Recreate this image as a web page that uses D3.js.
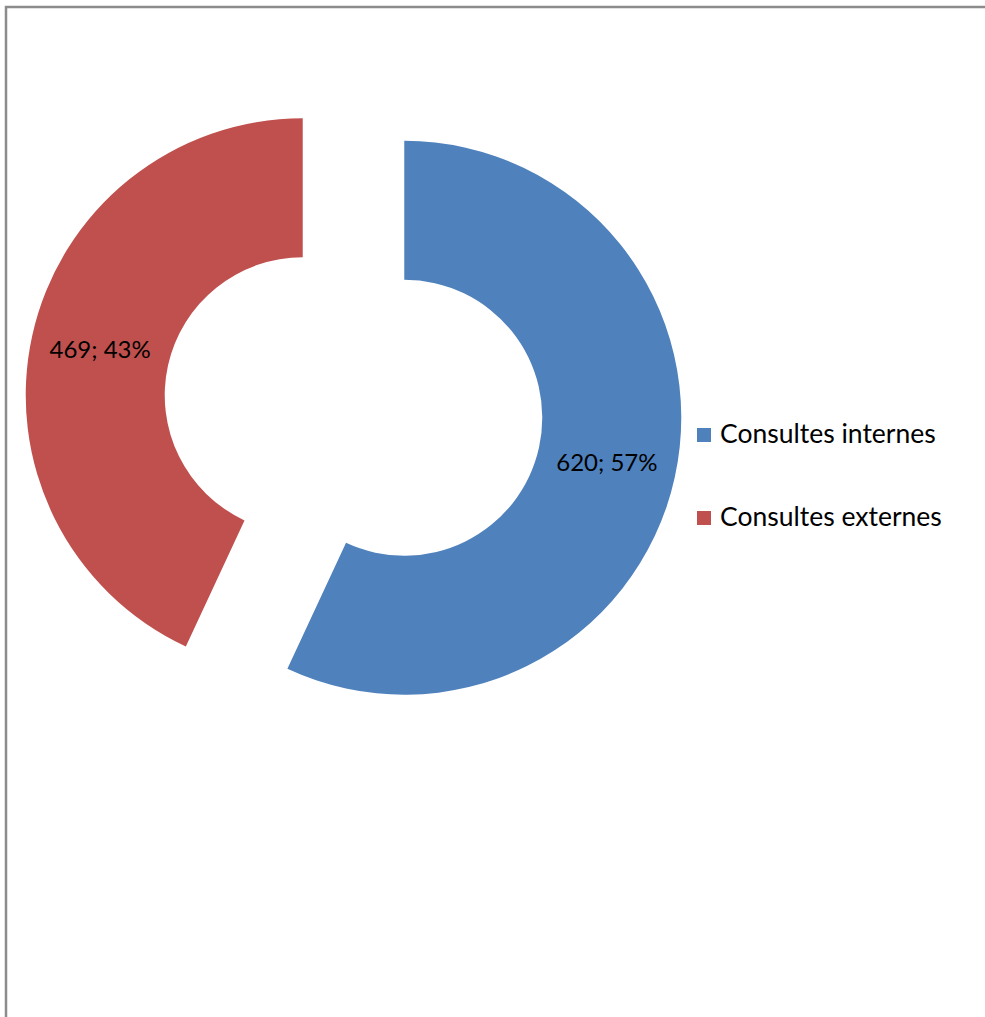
<!DOCTYPE html>
<html>
<head>
<meta charset="utf-8">
<script src="https://cdn.jsdelivr.net/npm/d3@7"></script>
<style>
  body { margin: 0; background: #fff; }
  text { font-family: Lato, "Open Sans", sans-serif; fill: #000; }
</style>
</head>
<body>
<div id="chart"></div>
<script>
// data
var categories = ["Consultes internes", "Consultes externes"];
var values = [620, 469];
var colors = ["#4F81BD", "#C0504D"];

var width = 985, height = 1017;
var cx = 353.5, cy = 406.5, outerR = 277, innerR = 138, explode = 52;

var svg = d3.select("#chart").append("svg")
  .attr("width", width).attr("height", height);

// frame
svg.append("path")
  .attr("d", "M6," + height + " V7 H" + width)
  .attr("fill", "none").attr("stroke", "#8c8c8c").attr("stroke-width", 2.5);

var total = d3.sum(values);
var pie = d3.pie().sort(null).startAngle(0).value(function (d) { return d; });
var arc = d3.arc().innerRadius(innerR).outerRadius(outerR);
var arcs = pie(values);

var g = svg.append("g").attr("transform", "translate(" + cx + "," + cy + ")");

var slice = g.selectAll(".slice").data(arcs).enter().append("g")
  .attr("class", "slice")
  .attr("transform", function (d) {
    var a = (d.startAngle + d.endAngle) / 2;
    return "translate(" + (Math.sin(a) * explode) + "," + (-Math.cos(a) * explode) + ")";
  });

slice.append("path")
  .attr("d", arc)
  .attr("fill", function (d, i) { return colors[i]; });

slice.append("text")
  .attr("transform", function (d) { var c = arc.centroid(d); return "translate(" + c[0] + "," + (c[1] + 8) + ")"; })
  .attr("text-anchor", "middle")
  .style("font-size", "24px")
  .text(function (d) { return d.value + "; " + Math.round(d.value / total * 100) + "%"; });

// legend
var legend = svg.append("g").attr("transform", "translate(697,428)");
var item = legend.selectAll(".item").data(categories).enter().append("g")
  .attr("transform", function (d, i) { return "translate(0," + (i * 83) + ")"; });
item.append("rect").attr("width", 14).attr("height", 14)
  .attr("fill", function (d, i) { return colors[i]; });
item.append("text").attr("x", 23).attr("y", 15)
  .style("font-size", "26.5px")
  .text(function (d) { return d; });
</script>
</body>
</html>
